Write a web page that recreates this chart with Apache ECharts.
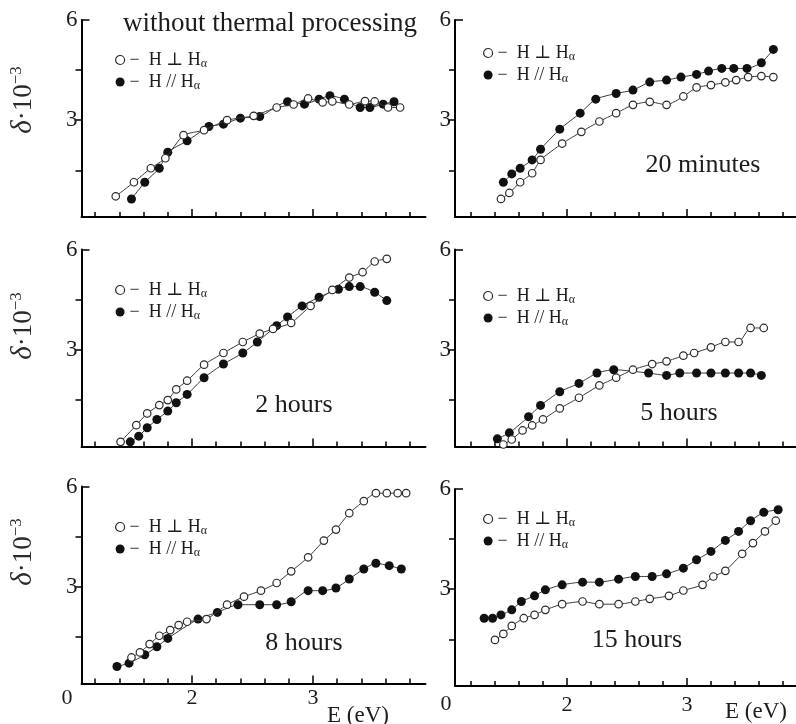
<!DOCTYPE html>
<html>
<head>
<meta charset="utf-8">
<script src="https://cdn.jsdelivr.net/npm/echarts@6/dist/echarts.min.js"></script>
<style>
  html, body { margin: 0; padding: 0; background: #fff; }
  #chart { width: 796px; height: 724px; }
</style>
</head>
<body>
<div id="chart"></div>
<script>
// [E (eV), delta*10^3], one pair per marker
const noHeatPerp = [[1.37,0.72],[1.52,1.14],[1.66,1.56],[1.78,1.86],[1.93,2.55],[2.10,2.70],[2.29,3.00],[2.51,3.13],[2.70,3.38],[2.84,3.47],[2.96,3.65],[3.08,3.53],[3.16,3.56],[3.30,3.47],[3.43,3.57],[3.51,3.56],[3.62,3.38],[3.72,3.38]]
const noHeatPara = [[1.50,0.64],[1.61,1.14],[1.73,1.56],[1.80,2.04],[1.96,2.38],[2.14,2.81],[2.26,2.88],[2.40,3.06],[2.56,3.11],[2.79,3.55],[2.93,3.48],[3.05,3.63],[3.14,3.73],[3.26,3.63],[3.39,3.38],[3.47,3.38],[3.58,3.48],[3.67,3.55]]

const min20Perp = [[1.45,0.64],[1.52,0.82],[1.61,1.14],[1.71,1.41],[1.78,1.81],[1.96,2.30],[2.12,2.65],[2.27,2.96],[2.41,3.21],[2.55,3.46],[2.69,3.55],[2.83,3.46],[2.97,3.71],[3.08,3.98],[3.20,4.05],[3.32,4.13],[3.41,4.20],[3.51,4.29],[3.62,4.32],[3.72,4.29]]
const min20Para = [[1.47,1.14],[1.54,1.39],[1.61,1.56],[1.71,1.81],[1.78,2.13],[1.94,2.73],[2.11,3.21],[2.24,3.63],[2.41,3.80],[2.55,3.90],[2.69,4.14],[2.83,4.20],[2.95,4.29],[3.08,4.37],[3.18,4.47],[3.29,4.55],[3.39,4.55],[3.50,4.55],[3.62,4.72],[3.72,5.12]]

const h2Perp = [[1.41,0.24],[1.54,0.74],[1.63,1.09],[1.73,1.34],[1.80,1.49],[1.87,1.81],[1.96,2.07],[2.10,2.55],[2.26,2.90],[2.42,3.23],[2.56,3.48],[2.67,3.62],[2.82,3.80],[2.98,4.31],[3.16,4.79],[3.30,5.16],[3.41,5.32],[3.51,5.64],[3.61,5.72]]
const h2Para = [[1.49,0.24],[1.56,0.41],[1.63,0.66],[1.71,0.91],[1.80,1.16],[1.87,1.41],[1.96,1.66],[2.10,2.16],[2.26,2.57],[2.42,2.90],[2.54,3.23],[2.70,3.72],[2.79,3.98],[2.91,4.31],[3.05,4.57],[3.21,4.81],[3.30,4.89],[3.39,4.89],[3.51,4.72],[3.61,4.47]]

const h5Perp = [[1.47,0.16],[1.54,0.31],[1.63,0.58],[1.71,0.73],[1.80,0.91],[1.94,1.24],[2.10,1.56],[2.27,1.93],[2.41,2.16],[2.55,2.40],[2.71,2.57],[2.83,2.65],[2.97,2.82],[3.06,2.90],[3.20,3.07],[3.32,3.23],[3.43,3.23],[3.53,3.65],[3.64,3.65]]
const h5Para = [[1.42,0.33],[1.52,0.51],[1.68,0.99],[1.78,1.33],[1.94,1.74],[2.10,1.99],[2.25,2.30],[2.39,2.40],[2.68,2.30],[2.83,2.23],[2.94,2.30],[3.08,2.30],[3.20,2.30],[3.32,2.30],[3.43,2.30],[3.53,2.30],[3.62,2.23]]

const h8Perp = [[1.50,0.88],[1.57,1.03],[1.65,1.28],[1.73,1.53],[1.82,1.70],[1.89,1.85],[1.96,1.95],[2.12,2.03],[2.29,2.46],[2.43,2.70],[2.57,2.88],[2.70,3.11],[2.82,3.46],[2.96,3.88],[3.09,4.38],[3.19,4.71],[3.30,5.20],[3.42,5.56],[3.52,5.80],[3.61,5.80],[3.70,5.80],[3.77,5.80]]
const h8Para = [[1.38,0.61],[1.48,0.71],[1.61,0.96],[1.71,1.20],[1.80,1.45],[2.05,2.03],[2.21,2.23],[2.38,2.46],[2.56,2.46],[2.70,2.46],[2.82,2.55],[2.96,2.88],[3.08,2.88],[3.19,2.96],[3.30,3.23],[3.42,3.53],[3.52,3.70],[3.63,3.63],[3.73,3.53]]

const h15Perp = [[1.40,1.48],[1.47,1.66],[1.54,1.90],[1.64,2.13],[1.73,2.23],[1.82,2.38],[1.96,2.55],[2.13,2.63],[2.27,2.55],[2.43,2.55],[2.57,2.63],[2.69,2.71],[2.85,2.80],[2.97,2.96],[3.13,3.13],[3.22,3.38],[3.32,3.55],[3.46,4.06],[3.55,4.38],[3.65,4.73],[3.74,5.05]]
const h15Para = [[1.31,2.13],[1.38,2.13],[1.45,2.23],[1.54,2.38],[1.62,2.63],[1.73,2.80],[1.82,2.98],[1.96,3.13],[2.13,3.21],[2.27,3.21],[2.43,3.30],[2.57,3.38],[2.71,3.38],[2.83,3.46],[2.97,3.63],[3.08,3.88],[3.20,4.13],[3.32,4.46],[3.43,4.73],[3.53,5.05],[3.64,5.30],[3.76,5.38]]

const perpName = 'H ⊥ Hα'
const paraName = 'H // Hα'
const panelLabels = ['', '20 minutes', '2 hours', '5 hours', '8 hours', '15 hours']
const xTickValues = [1.2, 1.4, 1.6, 1.8, 2.0, 2.2, 2.4, 2.6, 2.8, 3.0, 3.2, 3.4, 3.6, 3.8]
const xMajorTicks = [2, 3]
const xLabelValues = [2, 3]
const yTickValues = [1.5, 3, 4.5]
const yLabelValues = [3, 6]

const perpSets = [noHeatPerp, min20Perp, h2Perp, h5Perp, h8Perp, h15Perp]
const paraSets = [noHeatPara, min20Para, h2Para, h5Para, h8Para, h15Para]

// ---- layout ----
const SERIF = '"Liberation Serif", "DejaVu Serif", serif'
const INK = '#1c1c1c'
const cols = [
  { left: 81.5, min: 1.087, max: 3.93, px: 121, legendLeft: 110, labelMargin: 4 },
  { left: 455, min: 1.067, max: 3.917, px: 120, legendLeft: 478, labelMargin: 8 }
]
const rowTops = [[20, 20], [249.5, 249.5], [486.5, 489]]
const legendTops = [[45, 38], [275, 281], [512, 504]]
const nameShift = [37, 44, 66]
const Y_MIN = 0.1, Y_MAX = 6, GRID_H = 197

const grids = [], xAxes = [], yAxes = [], series = [], legends = []

for (let i = 0; i < 6; i++) {
  const r = Math.floor(i / 2), c = i % 2
  const col = cols[c]
  grids.push({
    left: col.left, top: rowTops[r][c],
    width: (col.max - col.min) * col.px, height: GRID_H,
    outerBoundsMode: 'none'
  })

  // main x axis: line, minor ticks, labels on the bottom row
  xAxes.push({
    type: 'value', gridIndex: i, min: col.min, max: col.max,
    axisLine: { onZero: false, lineStyle: { color: '#000', width: 2 } },
    axisTick: { inside: true, length: 5, customValues: xTickValues, lineStyle: { color: '#000', width: 1.5 } },
    axisLabel: {
      show: r === 2, customValues: xLabelValues, margin: col.labelMargin,
      fontSize: 22, fontFamily: SERIF, color: INK
    },
    splitLine: { show: false }
  })
  // longer ticks at 2 and 3
  xAxes.push({
    type: 'value', gridIndex: i, min: col.min, max: col.max, position: 'bottom',
    axisLine: { show: false },
    axisTick: { inside: true, length: 8, customValues: xMajorTicks, lineStyle: { color: '#000', width: 1.5 } },
    axisLabel: { show: false }, splitLine: { show: false }
  })

  const yMain = {
    type: 'value', gridIndex: i, min: Y_MIN, max: Y_MAX, position: 'left',
    axisLine: { show: true, onZero: false, lineStyle: { color: '#000', width: 2 } },
    axisTick: { inside: false, length: 6, customValues: yTickValues, lineStyle: { color: '#000', width: 1.5 } },
    axisLabel: { customValues: yLabelValues, margin: 4, fontSize: 23, fontFamily: SERIF, color: INK },
    splitLine: { show: false }
  }
  if (c === 0) {
    yMain.name = '{d|δ}{b|·10}{s|−3}'
    yMain.nameLocation = 'middle'
    yMain.nameRotate = 90
    yMain.nameGap = 43
    yMain.nameTextStyle = {
      fontFamily: SERIF, color: '#2a2a2a', padding: [0, 0, 0, nameShift[r]],
      rich: {
        d: { fontSize: 29, fontStyle: 'italic', fontFamily: SERIF, color: '#2a2a2a', lineHeight: 30 },
        b: { fontSize: 27, fontFamily: SERIF, color: '#2a2a2a', lineHeight: 30 },
        s: { fontSize: 17, fontFamily: SERIF, color: '#2a2a2a', lineHeight: 16, verticalAlign: 'top' }
      }
    }
  }
  yAxes.push(yMain)
  // top tick at 6 points into the plot
  yAxes.push({
    type: 'value', gridIndex: i, min: Y_MIN, max: Y_MAX, position: 'left',
    axisLine: { show: false },
    axisTick: { inside: true, length: 8, customValues: [6], lineStyle: { color: '#000', width: 1.5 } },
    axisLabel: { show: false }, splitLine: { show: false }
  })

  series.push({
    name: perpName, type: 'line', xAxisIndex: 2 * i, yAxisIndex: 2 * i,
    data: perpSets[i], smooth: 0.2, symbol: 'circle', symbolSize: 7.5,
    lineStyle: { color: '#3a3a3a', width: 1 },
    itemStyle: { color: '#fff', borderColor: '#2a2a2a', borderWidth: 1.2 },
    z: 3
  })
  series.push({
    name: paraName, type: 'line', xAxisIndex: 2 * i, yAxisIndex: 2 * i,
    data: paraSets[i], smooth: 0.2, symbol: 'circle', symbolSize: 9,
    lineStyle: { color: '#3a3a3a', width: 1 },
    itemStyle: { color: '#111' },
    z: 2
  })

  legends.push({
    orient: 'vertical', left: col.legendLeft, top: legendTops[r][c],
    itemWidth: 9, itemHeight: 9, itemGap: 2, selectedMode: false,
    data: [
      { name: perpName, icon: 'circle', itemStyle: { color: '#fff', borderColor: '#2a2a2a', borderWidth: 1.2 } },
      { name: paraName, icon: 'circle', itemStyle: { color: '#111' } }
    ],
    formatter: n => '−  ' + n.slice(0, -1) + '{a|α}',
    textStyle: {
      fontSize: 18, lineHeight: 20, fontFamily: SERIF, color: INK,
      rich: { a: { fontSize: 12, lineHeight: 12, fontFamily: SERIF, color: INK, verticalAlign: 'bottom' } }
    }
  })
}

function label(text, x, y, size) {
  return {
    type: 'text', x: x, y: y, silent: true,
    style: {
      text: text, font: size + 'px ' + SERIF, fill: INK,
      align: 'center', verticalAlign: 'middle',
      textAlign: 'center', textVerticalAlign: 'middle'
    }
  }
}

const graphics = [
  label('without thermal processing', 270, 24, 27),
  label(panelLabels[1], 703, 165, 26),
  label(panelLabels[2], 294, 405, 26),
  label(panelLabels[3], 679, 413, 26),
  label(panelLabels[4], 304, 643, 26),
  label(panelLabels[5], 637, 640, 26),
  label('0', 67, 698, 22),
  label('0', 446, 704, 22),
  label('E (eV)', 358, 716, 23),
  label('E (eV)', 756, 712, 23)
]

const chart = echarts.init(document.getElementById('chart'), null, { renderer: 'canvas' })
chart.setOption({
  backgroundColor: '#fff',
  animation: false,
  grid: grids,
  xAxis: xAxes,
  yAxis: yAxes,
  legend: legends,
  series: series,
  graphic: graphics
})
</script>
</body>
</html>
